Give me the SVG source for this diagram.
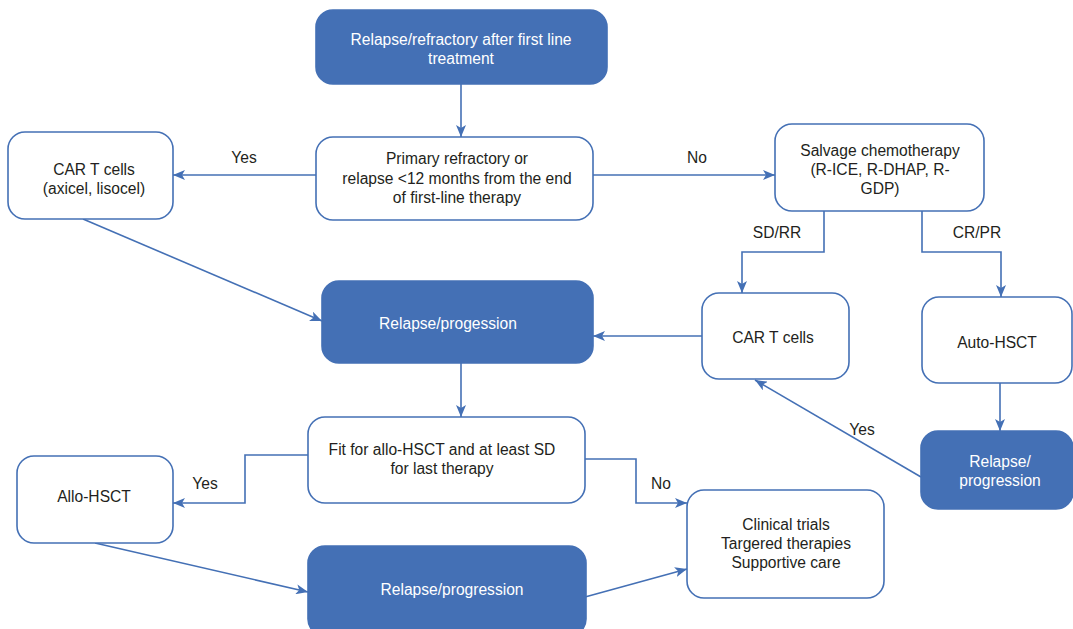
<svg xmlns="http://www.w3.org/2000/svg" width="1073" height="629" viewBox="0 0 1073 629">
<style>
.box{fill:#ffffff;stroke:#4470b5;stroke-width:1.6}
.dark{fill:#4470b5;stroke:#4470b5;stroke-width:1.6}
text{font-family:"Liberation Sans",Arial,Helvetica,sans-serif;font-size:15.6px;text-anchor:middle;fill:#231f20}
.w{fill:#ffffff}
.c{fill:none;stroke:#4470b5;stroke-width:1.6}
</style>
<defs>
<marker id="ah" viewBox="0 0 12 10" refX="12" refY="5" markerWidth="12" markerHeight="10" markerUnits="userSpaceOnUse" orient="auto">
<path d="M0,0 L12,5 L0,10 L3,5 z" fill="#4470b5"/>
</marker>
</defs>
<g id="connectors">
<path class="c" d="M461,84 V137" marker-end="url(#ah)"/>
<path class="c" d="M316,175 H173" marker-end="url(#ah)"/>
<path class="c" d="M593,175 H775" marker-end="url(#ah)"/>
<path class="c" d="M824,211 V252 H742 V293" marker-end="url(#ah)"/>
<path class="c" d="M922,211 V252 H1001 V297" marker-end="url(#ah)"/>
<path class="c" d="M702,336 H593" marker-end="url(#ah)"/>
<path class="c" d="M83,219 L322,321" marker-end="url(#ah)"/>
<path class="c" d="M1000,383 V431" marker-end="url(#ah)"/>
<path class="c" d="M921,477 L755,380" marker-end="url(#ah)"/>
<path class="c" d="M461,363 V417" marker-end="url(#ah)"/>
<path class="c" d="M308,455 H245 V503 H173" marker-end="url(#ah)"/>
<path class="c" d="M585,459 H636 V503 H687" marker-end="url(#ah)"/>
<path class="c" d="M95,543 L308,592" marker-end="url(#ah)"/>
<path class="c" d="M585,597 L687,569" marker-end="url(#ah)"/>
<text x="244" y="163">Yes</text>
<text x="697" y="163">No</text>
<text x="777" y="238">SD/RR</text>
<text x="977" y="238">CR/PR</text>
<text x="862" y="435">Yes</text>
<text x="205" y="489">Yes</text>
<text x="661" y="489">No</text>
</g>
<g id="n_start">
<rect class="dark" x="316" y="10" width="291" height="74" rx="17"/>
<text class="w" x="461" y="45">Relapse/refractory after first line</text>
<text class="w" x="461" y="64">treatment</text>
</g>
<g id="n_primary">
<rect class="box" x="316" y="137" width="277" height="83" rx="17"/>
<text x="457" y="164">Primary refractory or</text>
<text x="457" y="183.5">relapse &lt;12 months from the end</text>
<text x="457" y="203">of first-line therapy</text>
</g>
<g id="n_cart1">
<rect class="box" x="8" y="132" width="165" height="87" rx="17"/>
<text x="94" y="175">CAR T cells</text>
<text x="94" y="194">(axicel, lisocel)</text>
</g>
<g id="n_salvage">
<rect class="box" x="775" y="124" width="209" height="87" rx="17"/>
<text x="880" y="156">Salvage chemotherapy</text>
<text x="880" y="175">(R-ICE, R-DHAP, R-</text>
<text x="880" y="194">GDP)</text>
</g>
<g id="n_relapse1">
<rect class="dark" x="322" y="281" width="271" height="82" rx="17"/>
<text class="w" x="448" y="329">Relapse/progession</text>
</g>
<g id="n_cart2">
<rect class="box" x="702" y="293" width="147" height="86" rx="17"/>
<text x="773" y="343">CAR T cells</text>
</g>
<g id="n_auto">
<rect class="box" x="922" y="297" width="150" height="86" rx="17"/>
<text x="997" y="348">Auto-HSCT</text>
</g>
<g id="n_relapse2">
<rect class="dark" x="921" y="431" width="152" height="78" rx="17"/>
<text class="w" x="1000" y="467">Relapse/</text>
<text class="w" x="1000" y="485.5">progression</text>
</g>
<g id="n_fit">
<rect class="box" x="308" y="417" width="277" height="86" rx="17"/>
<text x="442" y="455">Fit for allo-HSCT and at least SD</text>
<text x="442" y="474">for last therapy</text>
</g>
<g id="n_allo">
<rect class="box" x="17" y="456" width="156" height="87" rx="17"/>
<text x="94" y="502">Allo-HSCT</text>
</g>
<g id="n_clinical">
<rect class="box" x="687" y="490" width="197" height="108" rx="17"/>
<text x="786" y="530">Clinical trials</text>
<text x="786" y="549">Targered therapies</text>
<text x="786" y="568">Supportive care</text>
</g>
<g id="n_relapse3">
<rect class="dark" x="308" y="546" width="278" height="90" rx="17"/>
<text class="w" x="452" y="595">Relapse/progression</text>
</g>
</svg>
